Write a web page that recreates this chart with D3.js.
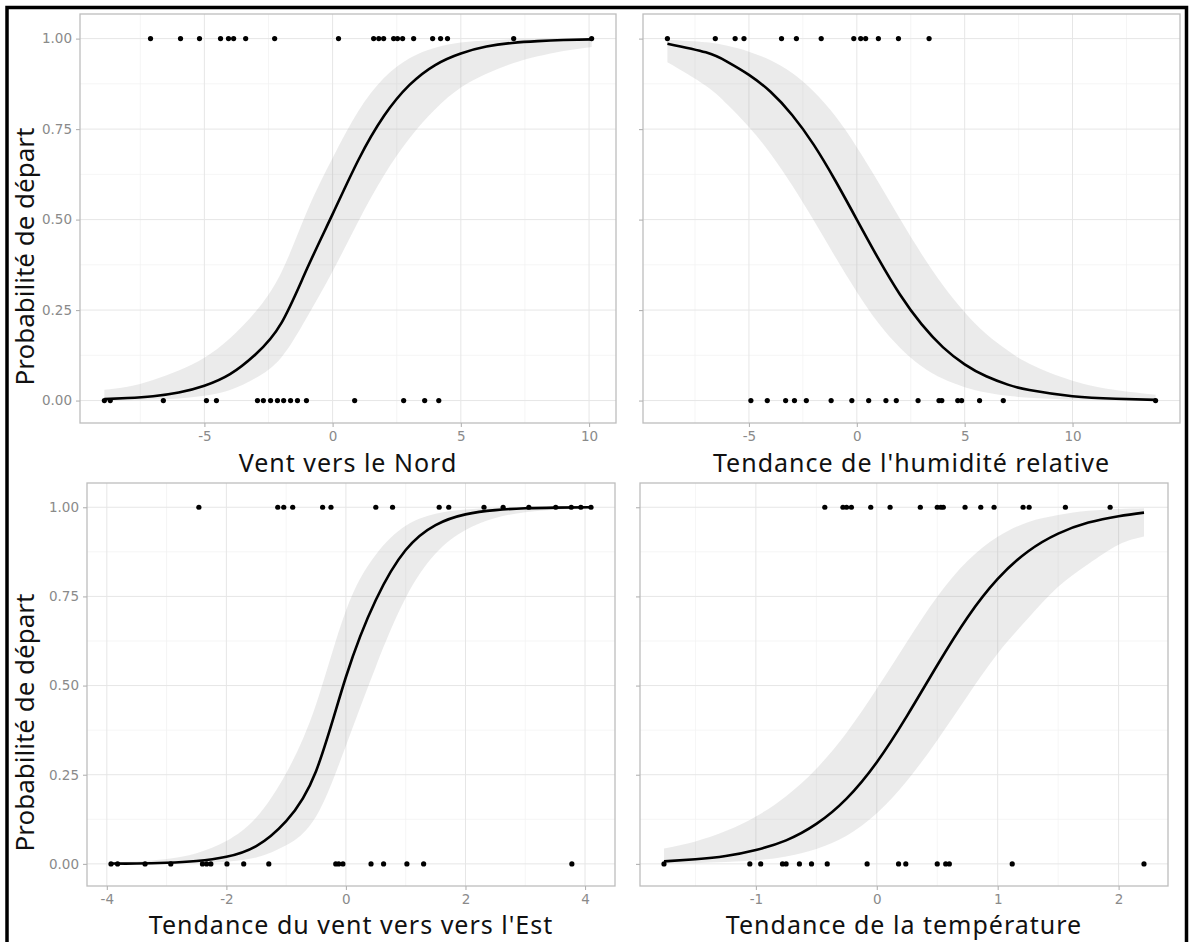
<!DOCTYPE html>
<html>
<head>
<meta charset="utf-8">
<script src="https://cdn.jsdelivr.net/npm/d3@7"></script>
<style>
  body { margin: 0; background: #fff; }
  svg { display: block; }
</style>
</head>
<body>
<div id="chart"></div>
<script>
// ---- data ----
var yTicks = [0, 0.25, 0.5, 0.75, 1];
var yTickLabels = ["0.00", "0.25", "0.50", "0.75", "1.00"];
var yTitle = "Probabilité de départ";

// Vent vers le Nord
var nordTicks = [-5, 0, 5, 10];
var nordX    = [-8.9, -8, -7, -6, -5, -4, -3, -2, -1, 0, 1, 2, 3, 4, 5, 6, 7, 8, 9, 10.1];
var nordFit  = [0.004, 0.007, 0.012, 0.022, 0.041, 0.073, 0.128, 0.214, 0.364, 0.515, 0.664, 0.786, 0.872, 0.927, 0.959, 0.978, 0.988, 0.993, 0.996, 0.998];
var nordLow  = [0.001, 0.001, 0.003, 0.006, 0.013, 0.029, 0.062, 0.119, 0.230, 0.357, 0.495, 0.622, 0.725, 0.805, 0.865, 0.903, 0.931, 0.951, 0.966, 0.977];
var nordHigh = [0.030, 0.038, 0.057, 0.083, 0.118, 0.172, 0.246, 0.354, 0.522, 0.670, 0.799, 0.891, 0.946, 0.975, 0.989, 0.995, 0.998, 0.999, 1.000, 1.000];
var nordOnes  = [-7.1, -5.93, -5.19, -4.37, -4.06, -3.86, -3.39, -2.26, 0.23, 1.6, 1.8, 1.99, 2.38, 2.53, 2.73, 3.16, 3.9, 4.21, 4.48, 7.06, 10.1];
var nordZeros = [-8.9, -8.67, -6.6, -4.92, -4.53, -2.93, -2.7, -2.42, -2.15, -1.91, -1.64, -1.37, -1.02, 0.86, 2.77, 3.59, 4.14];

// Tendance de l'humidité relative
var humTicks = [-5, 0, 5, 10];
var humX    = [-8.78, -7, -6, -5, -4, -3, -2, -1, 0, 1, 2, 3, 4, 5, 6, 7, 8, 10, 12, 13.85];
var humFit  = [0.986, 0.962, 0.936, 0.900, 0.853, 0.789, 0.707, 0.608, 0.500, 0.392, 0.293, 0.211, 0.147, 0.100, 0.067, 0.044, 0.029, 0.012, 0.005, 0.002];
var humLow  = [0.935, 0.870, 0.818, 0.756, 0.682, 0.595, 0.498, 0.397, 0.300, 0.214, 0.146, 0.095, 0.060, 0.037, 0.022, 0.013, 0.008, 0.003, 0.001, 0.000];
var humHigh = [0.997, 0.990, 0.980, 0.964, 0.940, 0.905, 0.854, 0.786, 0.700, 0.603, 0.502, 0.405, 0.318, 0.244, 0.184, 0.138, 0.102, 0.055, 0.029, 0.016];
var humOnes  = [-8.78, -6.56, -5.64, -5.23, -3.49, -2.8, -1.65, -0.14, 0.18, 0.41, 1.0, 1.93, 3.35];
var humZeros = [-4.91, -4.15, -3.3, -2.89, -2.34, -1.19, -0.23, 0.55, 1.35, 1.83, 2.84, 3.81, 3.94, 4.68, 4.86, 5.69, 6.79, 13.85];

// Tendance du vent vers vers l'Est
var estTicks = [-4, -2, 0, 2, 4];
var estX    = [-3.93, -3.5, -3, -2.5, -2, -1.5, -1, -0.5, 0, 0.5, 1, 1.5, 2, 2.5, 3, 3.5, 4.1];
var estFit  = [0.001, 0.001, 0.003, 0.008, 0.020, 0.050, 0.120, 0.260, 0.524, 0.740, 0.880, 0.950, 0.980, 0.992, 0.997, 0.999, 1.000];
var estLow  = [0.000, 0.000, 0.001, 0.002, 0.006, 0.018, 0.052, 0.133, 0.331, 0.553, 0.746, 0.870, 0.936, 0.970, 0.986, 0.993, 0.997];
var estHigh = [0.004, 0.007, 0.014, 0.030, 0.064, 0.130, 0.254, 0.447, 0.710, 0.867, 0.948, 0.982, 0.994, 0.998, 0.999, 1.000, 1.000];
var estOnes  = [-2.46, -1.14, -1.04, -0.89, -0.39, -0.25, 0.5, 0.78, 1.56, 1.72, 2.31, 2.63, 3.06, 3.51, 3.77, 3.93, 4.1];
var estZeros = [-3.93, -3.82, -3.36, -2.93, -2.4, -2.33, -2.26, -1.99, -1.71, -1.29, -0.17, -0.12, -0.05, 0.42, 0.63, 1.02, 1.3, 3.78];

// Tendance de la température
var tempTicks = [-1, 0, 1, 2];
var tempX    = [-1.76, -1.5, -1.25, -1, -0.75, -0.5, -0.25, 0, 0.25, 0.5, 0.75, 1, 1.25, 1.5, 1.75, 2, 2.21];
var tempFit  = [0.007, 0.013, 0.022, 0.039, 0.066, 0.112, 0.183, 0.285, 0.415, 0.557, 0.691, 0.799, 0.876, 0.926, 0.957, 0.975, 0.985];
var tempLow  = [0.001, 0.002, 0.005, 0.010, 0.021, 0.042, 0.079, 0.142, 0.233, 0.347, 0.471, 0.590, 0.688, 0.777, 0.841, 0.895, 0.918];
var tempHigh = [0.043, 0.063, 0.092, 0.133, 0.190, 0.267, 0.368, 0.491, 0.623, 0.749, 0.849, 0.917, 0.958, 0.978, 0.990, 0.995, 0.997];
var tempOnes  = [-0.43, -0.28, -0.25, -0.21, -0.05, 0.11, 0.36, 0.5, 0.53, 0.55, 0.73, 0.86, 0.97, 1.21, 1.26, 1.56, 1.93];
var tempZeros = [-1.76, -1.05, -0.96, -0.78, -0.75, -0.64, -0.54, -0.41, -0.08, 0.18, 0.24, 0.5, 0.57, 0.6, 1.12, 2.21];

// ---- layout ----
var svgWidth = 1190, svgHeight = 942;
var yDomain = [-0.062, 1.068];

// box = [left, top, right, bottom] of each panel, titleY = baseline of x title
var panels = [
  { title: "Vent vers le Nord", xs: nordX, fit: nordFit, low: nordLow, high: nordHigh,
    ones: nordOnes, zeros: nordZeros, ticks: nordTicks, box: [80, 14, 616, 423], titleY: 472, left: true },
  { title: "Tendance de l'humidité relative", xs: humX, fit: humFit, low: humLow, high: humHigh,
    ones: humOnes, zeros: humZeros, ticks: humTicks, box: [643, 14, 1180, 423], titleY: 472, left: false },
  { title: "Tendance du vent vers vers l'Est", xs: estX, fit: estFit, low: estLow, high: estHigh,
    ones: estOnes, zeros: estZeros, ticks: estTicks, box: [87, 483, 615, 886], titleY: 933.5, left: true },
  { title: "Tendance de la température", xs: tempX, fit: tempFit, low: tempLow, high: tempHigh,
    ones: tempOnes, zeros: tempZeros, ticks: tempTicks, box: [640, 483, 1168, 886], titleY: 933.5, left: false }
];

var svg = d3.select("#chart")
  .append("svg")
  .attr("width", svgWidth)
  .attr("height", svgHeight);

svg.append("rect")
  .attr("width", svgWidth)
  .attr("height", svgHeight)
  .attr("fill", "#fff");

// minor breaks: half way between majors, plus one step past each end
function minorBreaks(major, domain) {
  var step = major[1] - major[0];
  var out = [];
  for (var v = major[0] - step / 2; v <= major[major.length - 1] + step / 2 + 1e-9; v += step) {
    if (v >= domain[0] && v <= domain[1]) out.push(v);
  }
  return out;
}

panels.forEach(function(p, i) {
  var b = p.box;
  var ext = d3.extent(p.xs.concat(p.ones, p.zeros));
  var pad = (ext[1] - ext[0]) * 0.05;
  var x = d3.scaleLinear().domain([ext[0] - pad, ext[1] + pad]).range([b[0], b[2]]);
  var y = d3.scaleLinear().domain(yDomain).range([b[3], b[1]]);

  var g = svg.append("g");

  g.append("clipPath").attr("id", "clip" + i)
    .append("rect")
    .attr("x", b[0]).attr("y", b[1])
    .attr("width", b[2] - b[0]).attr("height", b[3] - b[1]);

  // grid lines
  var grid = g.append("g");
  grid.selectAll(".vminor").data(minorBreaks(p.ticks, x.domain())).enter()
    .append("line")
    .attr("x1", d => x(d)).attr("x2", d => x(d))
    .attr("y1", b[1]).attr("y2", b[3])
    .attr("stroke", "#f2f2f2").attr("stroke-width", 0.8);
  grid.selectAll(".hminor").data(minorBreaks(yTicks, yDomain)).enter()
    .append("line")
    .attr("x1", b[0]).attr("x2", b[2])
    .attr("y1", d => y(d)).attr("y2", d => y(d))
    .attr("stroke", "#f2f2f2").attr("stroke-width", 0.8);
  grid.selectAll(".vmajor").data(p.ticks).enter()
    .append("line")
    .attr("x1", d => x(d)).attr("x2", d => x(d))
    .attr("y1", b[1]).attr("y2", b[3])
    .attr("stroke", "#e6e6e6").attr("stroke-width", 1);
  grid.selectAll(".hmajor").data(yTicks).enter()
    .append("line")
    .attr("x1", b[0]).attr("x2", b[2])
    .attr("y1", d => y(d)).attr("y2", d => y(d))
    .attr("stroke", "#e6e6e6").attr("stroke-width", 1);

  var rows = p.xs.map(function(v, k) {
    return { x: v, fit: p.fit[k], low: p.low[k], high: p.high[k] };
  });

  var plot = g.append("g").attr("clip-path", "url(#clip" + i + ")");

  // confidence ribbon
  plot.append("path")
    .datum(rows)
    .attr("d", d3.area()
      .x(d => x(d.x))
      .y0(d => y(d.low))
      .y1(d => y(d.high))
      .curve(d3.curveNatural))
    .attr("fill", "#999999")
    .attr("fill-opacity", 0.2);

  // fitted curve
  plot.append("path")
    .datum(rows)
    .attr("d", d3.line()
      .x(d => x(d.x))
      .y(d => y(d.fit))
      .curve(d3.curveNatural))
    .attr("fill", "none")
    .attr("stroke", "#000")
    .attr("stroke-width", 2.6);

  // observations
  var pts = p.ones.map(v => ({ x: v, y: 1 })).concat(p.zeros.map(v => ({ x: v, y: 0 })));
  plot.selectAll(".pt").data(pts).enter()
    .append("circle")
    .attr("cx", d => x(d.x))
    .attr("cy", d => y(d.y))
    .attr("r", 2.6)
    .attr("fill", "#000");

  // panel border
  g.append("rect")
    .attr("x", b[0]).attr("y", b[1])
    .attr("width", b[2] - b[0]).attr("height", b[3] - b[1])
    .attr("fill", "none")
    .attr("stroke", "#bdbdbd")
    .attr("stroke-width", 1.3);

  // axes
  var xAxis = g.append("g")
    .attr("transform", `translate(0, ${b[3]})`)
    .call(d3.axisBottom(x).tickValues(p.ticks).tickSize(4).tickPadding(4).tickFormat(d => String(d)));

  var yAxis = g.append("g")
    .attr("transform", `translate(${b[0]}, 0)`)
    .call(d3.axisLeft(y).tickValues(yTicks).tickSize(4).tickPadding(4)
      .tickFormat((d, k) => p.left ? yTickLabels[k] : ""));

  [xAxis, yAxis].forEach(function(ax) {
    ax.select(".domain").remove();
    ax.selectAll(".tick line").attr("stroke", "#b3b3b3").attr("stroke-width", 1.1);
    ax.selectAll(".tick text")
      .attr("fill", "#8a8a8a")
      .style("font-family", "DejaVu Sans, sans-serif")
      .style("font-size", "13.5px");
  });

  // x title
  g.append("text")
    .attr("x", (b[0] + b[2]) / 2)
    .attr("y", p.titleY)
    .attr("text-anchor", "middle")
    .style("font-family", "Noto Sans, sans-serif")
    .style("font-size", "25px")
    .style("letter-spacing", "1px")
    .attr("fill", "#111")
    .text(p.title);

  // y title on the left column only
  if (p.left) {
    g.append("text")
      .attr("transform", `translate(34, ${(b[1] + b[3]) / 2 + 38}) rotate(-90)`)
      .attr("text-anchor", "middle")
      .style("font-family", "Noto Sans, sans-serif")
      .style("font-size", "26px")
      .attr("fill", "#111")
      .text(yTitle);
  }
});

// black frame round the figure
svg.append("path")
  .attr("d", "M7,960 V7.5 H1186.5 V960")
  .attr("fill", "none")
  .attr("stroke", "#000")
  .attr("stroke-width", 3.5);
</script>
</body>
</html>
